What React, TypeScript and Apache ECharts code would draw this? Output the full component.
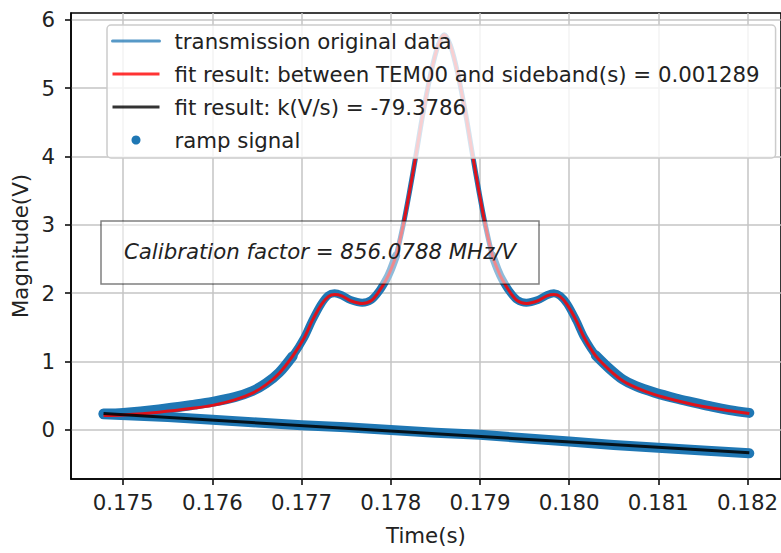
import React, { useEffect, useRef } from "react";
import * as echarts from "echarts";

// Time axis (s) of the cavity transmission scan
const curveTime = [
  0.17478, 0.175, 0.1754, 0.1758, 0.176, 0.17625, 0.17645, 0.1766, 0.17675, 0.1769,
  0.17703, 0.17712, 0.17722, 0.1773, 0.17737, 0.17745, 0.17755, 0.17768, 0.17778, 0.17787,
  0.17795, 0.178, 0.17806, 0.17814, 0.17821, 0.17828, 0.17836, 0.17845, 0.17853, 0.1786,
  0.17867, 0.17875, 0.17884, 0.17892, 0.17899, 0.17906, 0.17914, 0.1792, 0.17925, 0.17933,
  0.17942, 0.17952, 0.17965, 0.17975, 0.17983, 0.1799, 0.17998, 0.18008, 0.18017, 0.1803,
  0.18045, 0.1806, 0.18075, 0.18095, 0.1812, 0.1814, 0.1816, 0.1818, 0.18202,
];

// Fitted TEM00 peak with its two sidebands (V)
const fitMagnitude = [
  0.21, 0.22, 0.26, 0.32, 0.36, 0.44, 0.54, 0.66, 0.83, 1.08,
  1.35, 1.6, 1.83, 1.95, 1.98, 1.96, 1.89, 1.85, 1.89, 2.03,
  2.2, 2.34, 2.55, 3.0, 3.48, 4.0, 4.62, 5.22, 5.62, 5.78,
  5.62, 5.22, 4.62, 4.0, 3.48, 3.0, 2.55, 2.34, 2.2, 2.03,
  1.89, 1.85, 1.89, 1.96, 1.98, 1.95, 1.83, 1.6, 1.35, 1.08,
  0.88, 0.72, 0.62, 0.52, 0.43, 0.37, 0.32, 0.28, 0.24,
];

// Measured transmission (V)
const transmissionMagnitude = [
  0.24, 0.25, 0.3, 0.37, 0.41, 0.48, 0.57, 0.68, 0.84, 1.08,
  1.35, 1.6, 1.84, 1.97, 2.0, 1.97, 1.9, 1.86, 1.9, 2.03,
  2.2, 2.34, 2.55, 3.0, 3.48, 4.0, 4.62, 5.22, 5.62, 5.78,
  5.62, 5.22, 4.62, 4.0, 3.48, 3.0, 2.55, 2.34, 2.2, 2.03,
  1.9, 1.86, 1.9, 1.97, 2.0, 1.96, 1.84, 1.6, 1.35, 1.09,
  0.9, 0.74, 0.64, 0.55, 0.46, 0.4, 0.34, 0.29, 0.25,
];

// Ramp signal samples (V)
const rampTime = [
  0.17478, 0.1755, 0.176, 0.1765, 0.177, 0.1775, 0.178, 0.1785,
  0.179, 0.1795, 0.18, 0.1805, 0.181, 0.1815, 0.18202,
];
const rampMagnitude = [
  0.23, 0.19, 0.15, 0.11, 0.07, 0.04, 0.0, -0.04,
  -0.07, -0.12, -0.17, -0.22, -0.26, -0.3, -0.34,
];

// Linear fit of the ramp, k = -79.3786 V/s
const rampFitTime = [0.17478, 0.18202];
const rampFitMagnitude = [0.24, -0.334];

const xTicks = [0.175, 0.176, 0.177, 0.178, 0.179, 0.18, 0.181, 0.182];
const yTicks = [0, 1, 2, 3, 4, 5, 6];

const nameTransmission = "transmission original data";
const nameFit = "fit result: between TEM00 and sideband(s) = 0.001289";
const nameLine = "fit result: k(V/s) = -79.3786";
const nameRamp = "ramp signal";
const calibrationLabel = "Calibration factor = 856.0788 MHz/V";

const FONT = "DejaVu Sans";
const FS = 21.3;
const TEXT = "#222222";
const BLUE = "#1f77b4";

const pairs = (xs: number[], ys: number[]) => xs.map((x, i) => [x, ys[i]]);

// The measured trace is noisy in voltage, so its band looks wider where the
// curve is flat than on the steep flanks of the peak: the flatter stretches
// get extra, wider strokes of the same trace.
const withGap = (xs: number[], ys: number[], leftEnd: number, rightStart: number) => [
  ...pairs(xs.slice(0, leftEnd + 1), ys.slice(0, leftEnd + 1)),
  [null, null],
  ...pairs(xs.slice(rightStart), ys.slice(rightStart)),
];

export default function App() {
  const ref = useRef<HTMLDivElement>(null);

  useEffect(() => {
    if (!ref.current) return;
    const chart = echarts.init(ref.current, null, { renderer: "svg" });

    const traceLayer = (data: any[], width: number) => ({
      name: nameTransmission,
      type: "line",
      data,
      symbol: "none",
      smooth: 0.3,
      connectNulls: false,
      color: BLUE,
      lineStyle: { color: BLUE, width, cap: "round", join: "round" },
      z: 2,
      silent: true,
    });

    chart.setOption({
      animation: false,
      backgroundColor: "#ffffff",
      grid: {
        left: 71,
        top: 13,
        width: 712,
        height: 466,
        show: true,
        borderColor: "#000000",
        borderWidth: 1.5,
        backgroundColor: "transparent",
      },
      xAxis: {
        type: "value",
        min: 0.174415,
        max: 0.182375,
        name: "Time(s)",
        nameLocation: "middle",
        nameGap: 46,
        nameTextStyle: { fontFamily: FONT, fontSize: FS, color: TEXT },
        axisLine: { show: true, onZero: false, lineStyle: { color: "#000", width: 1.5 } },
        axisTick: { show: true, length: 6, lineStyle: { color: "#000", width: 1.5 }, customValues: xTicks },
        axisLabel: {
          customValues: xTicks,
          margin: 13,
          fontFamily: FONT,
          fontSize: FS,
          color: TEXT,
          formatter: (v: number) => v.toFixed(3),
        },
        splitLine: { show: true, lineStyle: { color: "#c4c4c4", width: 1.5 } },
      },
      yAxis: {
        type: "value",
        min: -0.717,
        max: 6.098,
        name: "Magnitude(V)",
        nameLocation: "middle",
        nameGap: 39,
        nameTextStyle: { fontFamily: FONT, fontSize: FS, color: TEXT },
        axisLine: { show: true, onZero: false, lineStyle: { color: "#000", width: 1.5 } },
        axisTick: { show: true, length: 6, lineStyle: { color: "#000", width: 1.5 }, customValues: yTicks },
        axisLabel: {
          customValues: yTicks,
          margin: 16,
          fontFamily: FONT,
          fontSize: FS,
          color: TEXT,
          formatter: (v: number) => String(Math.round(v)),
        },
        splitLine: { show: true, lineStyle: { color: "#c4c4c4", width: 1.5 } },
      },
      legend: {
        orient: "vertical",
        left: 107,
        top: 25,
        padding: [5, 16, 7, 4],
        itemWidth: 47,
        itemHeight: 9,
        itemGap: 11,
        selectedMode: false,
        backgroundColor: "rgba(255,255,255,0.8)",
        borderColor: "#cccccc",
        borderWidth: 1.5,
        borderRadius: 4,
        textStyle: {
          fontFamily: FONT,
          fontSize: FS,
          color: TEXT,
          lineHeight: 22,
          padding: [0, 0, 0, 10],
        },
        data: [
          { name: nameTransmission, itemStyle: { opacity: 0 }, lineStyle: { color: "rgba(31,119,180,0.75)", width: 3 } },
          { name: nameFit, itemStyle: { opacity: 0 }, lineStyle: { color: "rgba(255,0,0,0.8)", width: 3 } },
          { name: nameLine, itemStyle: { opacity: 0 }, lineStyle: { color: "rgba(0,0,0,0.8)", width: 3 } },
          { name: nameRamp, icon: "circle", itemStyle: { color: BLUE } },
        ],
      },
      series: [
        {
          name: nameRamp,
          type: "line",
          data: pairs(rampTime, rampMagnitude),
          symbol: "none",
          color: BLUE,
          lineStyle: { color: BLUE, width: 10, cap: "round", join: "round" },
          z: 1,
          silent: true,
        },
        traceLayer(pairs(curveTime, transmissionMagnitude), 5),
        traceLayer(withGap(curveTime, transmissionMagnitude, 22, 36), 8),
        traceLayer(withGap(curveTime, transmissionMagnitude, 9, 49), 10),
        {
          name: nameFit,
          type: "line",
          data: pairs(curveTime, fitMagnitude),
          symbol: "none",
          smooth: 0.3,
          color: "#ff0000",
          lineStyle: { color: "rgba(255,0,0,0.85)", width: 3, join: "round" },
          z: 3,
          silent: true,
        },
        {
          name: nameLine,
          type: "line",
          data: pairs(rampFitTime, rampFitMagnitude),
          symbol: "none",
          color: "#000000",
          lineStyle: { color: "rgba(0,0,0,0.85)", width: 3 },
          z: 4,
          silent: true,
        },
      ],
      graphic: [
        {
          type: "rect",
          shape: { x: 101, y: 221, width: 438, height: 63 },
          style: { fill: "rgba(255,255,255,0.5)", stroke: "rgba(0,0,0,0.5)", lineWidth: 1.5 },
          z: 100,
          silent: true,
        },
        {
          type: "text",
          x: 320,
          y: 251,
          style: {
            text: calibrationLabel,
            fontFamily: FONT,
            fontSize: FS,
            fontStyle: "italic",
            fill: TEXT,
            align: "center",
            verticalAlign: "middle",
          },
          z: 101,
          silent: true,
        },
      ],
    });
    return () => chart.dispose();
  }, []);

  return (
    <div
      ref={ref}
      style={{ position: "absolute", left: 0, top: 0, width: 781, height: 553 }}
    />
  );
}
